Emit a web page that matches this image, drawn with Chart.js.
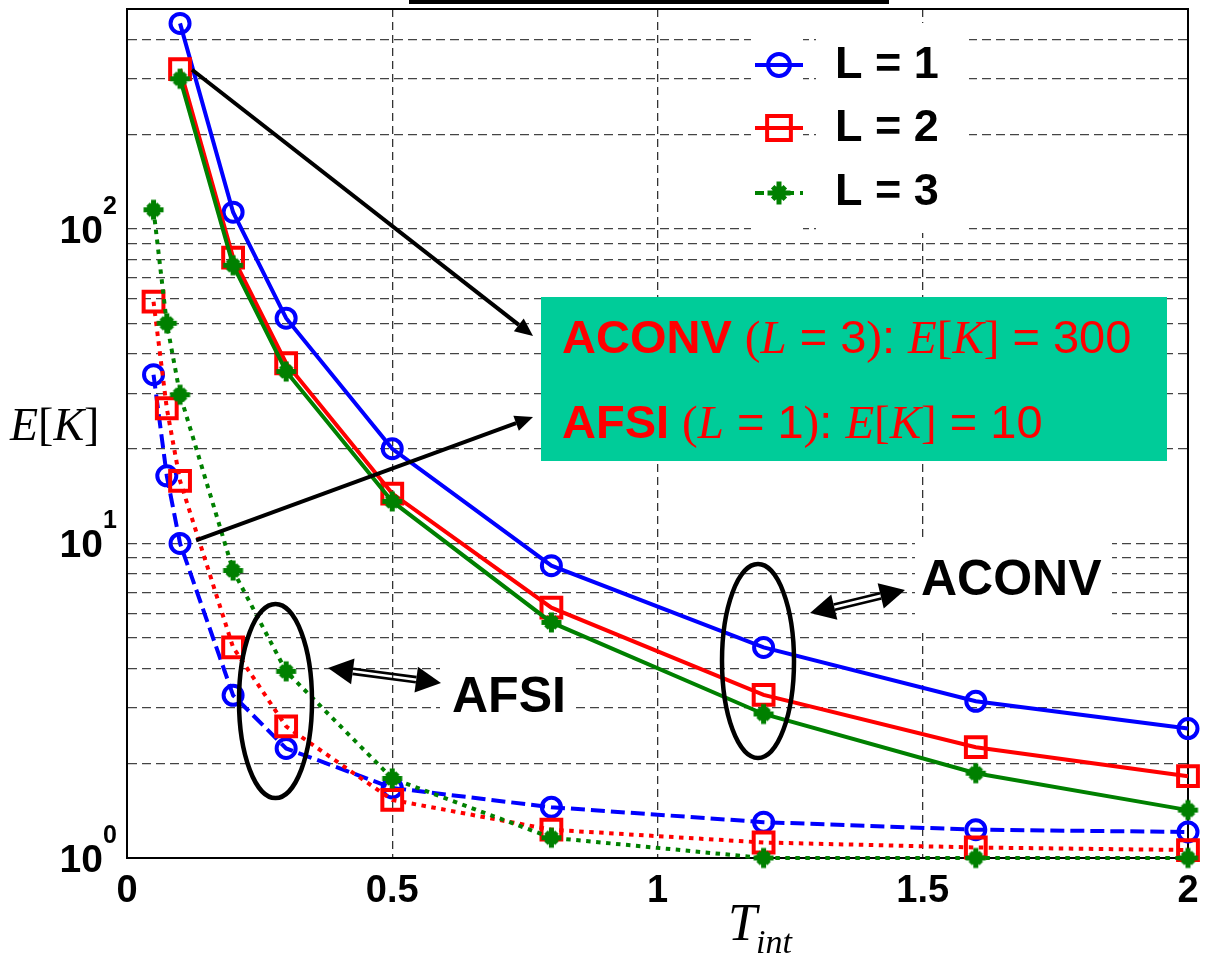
<!DOCTYPE html>
<html>
<head>
<meta charset="utf-8">
<script src="https://cdn.jsdelivr.net/npm/chart.js@4.4.1/dist/chart.umd.min.js"></script>
<style>
  html, body { margin: 0; padding: 0; background: #ffffff; }
  #wrap { width: 1205px; height: 957px; position: relative; }
</style>
</head>
<body>
<div id="wrap"><canvas id="c" width="1205" height="957"></canvas></div>
<script>
// Interval lengths (x) for the two schemes
const tAconv = [0.1, 0.2, 0.3, 0.5, 0.8, 1.2, 1.6, 2.0];
const tAfsi  = [0.05, 0.075, 0.1, 0.2, 0.3, 0.5, 0.8, 1.2, 1.6, 2.0];

// E[K] for ACONV (solid lines)
const aconvL1 = [450, 113, 52, 20, 8.5, 4.67, 3.15, 2.58];
const aconvL2 = [322, 81, 37.4, 14.4, 6.25, 3.30, 2.25, 1.82];
const aconvL3 = [300, 76.6, 35.2, 13.6, 5.61, 2.87, 1.86, 1.42];

// E[K] for AFSI (dashed / dotted lines)
const afsiL1 = [34.4, 16.4, 10, 3.29, 2.23, 1.67, 1.45, 1.30, 1.23, 1.21];
const afsiL2 = [58.7, 26.9, 15.8, 4.67, 2.62, 1.53, 1.23, 1.12, 1.08, 1.06];
const afsiL3 = [115, 50.1, 29.7, 8.2, 3.92, 1.79, 1.16, 1.0, 1.0, 1.0];

const seriesNames = ['L = 1', 'L = 2', 'L = 3'];
const xTicks = [0, 0.5, 1, 1.5, 2];
const xTickLabels = ['0', '0.5', '1', '1.5', '2'];
const yDecades = [1, 10, 100];
const yDecadeExp = ['0', '1', '2'];
const yGridValues = [2, 3, 4, 5, 6, 7, 8, 9, 10, 20, 30, 40, 50, 60, 70, 80, 90, 100, 200, 300, 400];

const SANS = '"Liberation Sans", Arial, Helvetica, sans-serif';
const SERIF = '"Liberation Serif", "Times New Roman", Times, serif';
const BLUE = '#0000FF', RED = '#FF0000', GREEN = '#008000';

function pts(xs, ys) { return xs.map((x, i) => ({ x: x, y: ys[i] })); }

// thick asterisk marker: filled diamond body with plus-shaped arms
function asteriskMarker(color, arm, body, lw) {
  const size = Math.ceil(2 * arm + lw + 2);
  const c = document.createElement('canvas');
  c.width = size; c.height = size;
  const g = c.getContext('2d');
  const m = size / 2;
  g.fillStyle = color; g.strokeStyle = color;
  g.beginPath();
  g.moveTo(m, m - body); g.lineTo(m + body, m); g.lineTo(m, m + body); g.lineTo(m - body, m);
  g.closePath(); g.fill();
  g.lineWidth = lw; g.lineCap = 'butt';
  g.beginPath();
  g.moveTo(m - arm, m); g.lineTo(m + arm, m);
  g.moveTo(m, m - arm); g.lineTo(m, m + arm);
  g.stroke();
  g.lineWidth = lw;
  const d = arm * 0.55;
  g.beginPath();
  g.moveTo(m - d, m - d); g.lineTo(m + d, m + d);
  g.moveTo(m - d, m + d); g.lineTo(m + d, m - d);
  g.stroke();
  return c;
}
const starPlot = asteriskMarker(GREEN, 10, 8, 5);
const starLegend = asteriskMarker(GREEN, 11.5, 9, 5);

const markerStyles = [
  { pointStyle: 'circle', pointRadius: 9.5, pointBorderWidth: 4 },
  { pointStyle: 'rect', pointRadius: 14, pointBorderWidth: 4 },
  { pointStyle: starPlot, pointRadius: 10, pointBorderWidth: 0 }
];
const colors = [BLUE, RED, GREEN];

function makeSet(label, data, idx, dash, order) {
  const m = markerStyles[idx];
  return {
    label: label,
    data: data,
    borderColor: colors[idx],
    borderWidth: 4,
    borderDash: dash,
    borderCapStyle: 'butt',
    tension: 0,
    fill: false,
    clip: false,
    pointStyle: m.pointStyle,
    pointRadius: m.pointRadius,
    pointBorderWidth: m.pointBorderWidth,
    pointBorderColor: colors[idx],
    pointBackgroundColor: 'rgba(0,0,0,0)',
    pointHoverRadius: m.pointRadius,
    order: order
  };
}

const datasets = [
  makeSet(seriesNames[0], pts(tAconv, aconvL1), 0, [], 6),
  makeSet(seriesNames[1], pts(tAconv, aconvL2), 1, [], 5),
  makeSet(seriesNames[2], pts(tAconv, aconvL3), 2, [], 4),
  makeSet(seriesNames[0] + ' AFSI', pts(tAfsi, afsiL1), 0, [14, 6], 3),
  makeSet(seriesNames[1] + ' AFSI', pts(tAfsi, afsiL2), 1, [4.5, 5.5], 2),
  makeSet(seriesNames[2] + ' AFSI', pts(tAfsi, afsiL3), 2, [4.5, 5.5], 1)
];

function drawRuns(ctx, x, y, runs, color) {
  ctx.fillStyle = color;
  ctx.textAlign = 'left';
  ctx.textBaseline = 'alphabetic';
  for (const r of runs) {
    ctx.font = r[1];
    ctx.fillText(r[0], x, y);
    x += ctx.measureText(r[0]).width;
  }
}

function arrow(ctx, x0, y0, x1, y1, headLen, headHalf, lw) {
  const a = Math.atan2(y1 - y0, x1 - x0);
  const bx = x1 - headLen * Math.cos(a), by = y1 - headLen * Math.sin(a);
  ctx.save();
  ctx.strokeStyle = '#000'; ctx.fillStyle = '#000'; ctx.lineWidth = lw; ctx.setLineDash([]);
  ctx.beginPath(); ctx.moveTo(x0, y0); ctx.lineTo(bx, by); ctx.stroke();
  ctx.beginPath();
  ctx.moveTo(x1, y1);
  ctx.lineTo(bx + headHalf * Math.sin(a), by - headHalf * Math.cos(a));
  ctx.lineTo(bx - headHalf * Math.sin(a), by + headHalf * Math.cos(a));
  ctx.closePath(); ctx.fill();
  ctx.restore();
}

function doubleArrow(ctx, x0, y0, x1, y1) {
  const a = Math.atan2(y1 - y0, x1 - x0);
  const hl = 25, hh = 13, off = 2.6;
  const ax = x0 + hl * Math.cos(a), ay = y0 + hl * Math.sin(a);
  const bx = x1 - hl * Math.cos(a), by = y1 - hl * Math.sin(a);
  const nx = -Math.sin(a), ny = Math.cos(a);
  ctx.save();
  ctx.strokeStyle = '#000'; ctx.fillStyle = '#000'; ctx.lineWidth = 2.6; ctx.setLineDash([]);
  for (const s of [-1, 1]) {
    ctx.beginPath();
    ctx.moveTo(ax + s * off * nx, ay + s * off * ny);
    ctx.lineTo(bx + s * off * nx, by + s * off * ny);
    ctx.stroke();
  }
  for (const h of [[x0, y0, ax, ay], [x1, y1, bx, by]]) {
    ctx.beginPath();
    ctx.moveTo(h[0], h[1]);
    ctx.lineTo(h[2] + hh * nx, h[3] + hh * ny);
    ctx.lineTo(h[2] - hh * nx, h[3] - hh * ny);
    ctx.closePath(); ctx.fill();
  }
  ctx.restore();
}

const decor = {
  id: 'decor',
  beforeDatasetsDraw(chart) {
    const { ctx, chartArea: a } = chart;
    ctx.save();
    ctx.strokeStyle = '#000'; ctx.lineWidth = 2; ctx.setLineDash([]);
    ctx.beginPath();
    ctx.moveTo(a.left, a.top); ctx.lineTo(a.right, a.top); ctx.lineTo(a.right, a.bottom);
    ctx.stroke();
    ctx.restore();
  },
  afterDatasetsDraw(chart) {
    const { ctx } = chart;
    const xs = chart.scales.x, ys = chart.scales.y;
    ctx.save();

    // label backgrounds that mask the grid
    ctx.fillStyle = '#ffffff';
    ctx.fillRect(751, 23, 52, 210);
    ctx.fillRect(816, 23, 153, 210);
    ctx.fillRect(440, 658, 132, 62);
    ctx.fillRect(915, 537, 197, 91);

    // legend
    for (let i = 0; i < 3; i++) {
      const ds = chart.data.datasets[i];
      const rowY = [65, 128, 193][i];
      ctx.strokeStyle = ds.borderColor; ctx.lineWidth = 4; ctx.lineCap = 'butt';
      ctx.setLineDash(i === 2 ? [9, 6] : []);
      ctx.beginPath(); ctx.moveTo(755, rowY); ctx.lineTo(803, rowY); ctx.stroke();
      ctx.setLineDash([]);
      ctx.fillStyle = 'rgba(0,0,0,0)';
      ctx.strokeStyle = ds.borderColor;
      ctx.lineWidth = ds.pointBorderWidth;
      const style = i === 2 ? starLegend : ds.pointStyle;
      const scale = i === 1 ? 1.2 : 1.15;
      Chart.helpers.drawPoint(ctx, {
        pointStyle: style, rotation: 0,
        radius: ds.pointRadius * scale, borderWidth: ds.pointBorderWidth
      }, 779, rowY);
      drawRuns(ctx, 835, [78, 141, 205][i], [[ds.label, 'bold 45px ' + SANS]], '#000');
    }

    // annotation box
    ctx.fillStyle = '#00CC99';
    ctx.fillRect(541, 297, 626, 164);
    const f = 47;
    drawRuns(ctx, 562, 353, [
      ['ACONV', 'bold ' + f + 'px ' + SANS], [' ', f + 'px ' + SANS], ['(', f + 'px ' + SERIF],
      ['L', 'italic ' + f + 'px ' + SERIF], [' = 3', f + 'px ' + SANS], [')', f + 'px ' + SERIF],
      [': ', f + 'px ' + SANS], ['E', 'italic ' + f + 'px ' + SERIF], ['[', f + 'px ' + SERIF],
      ['K', 'italic ' + f + 'px ' + SERIF], [']', f + 'px ' + SERIF], [' = 300', f + 'px ' + SANS]
    ], RED);
    drawRuns(ctx, 562, 438, [
      ['AFSI', 'bold ' + f + 'px ' + SANS], [' ', f + 'px ' + SANS], ['(', f + 'px ' + SERIF],
      ['L', 'italic ' + f + 'px ' + SERIF], [' = 1', f + 'px ' + SANS], [')', f + 'px ' + SERIF],
      [': ', f + 'px ' + SANS], ['E', 'italic ' + f + 'px ' + SERIF], ['[', f + 'px ' + SERIF],
      ['K', 'italic ' + f + 'px ' + SERIF], [']', f + 'px ' + SERIF], [' = 10', f + 'px ' + SANS]
    ], RED);

    // pointer arrows from the highlighted points to the box
    arrow(ctx, xs.getPixelForValue(tAconv[0]) + 12, ys.getPixelForValue(aconvL3[0]) - 9, 533, 336, 18, 8, 4);
    arrow(ctx, xs.getPixelForValue(tAfsi[2]) + 16, ys.getPixelForValue(afsiL1[2]) - 3, 533, 417, 18, 8, 4);

    // grouping ellipses
    ctx.strokeStyle = '#000'; ctx.lineWidth = 4.5; ctx.setLineDash([]);
    ctx.beginPath(); ctx.ellipse(275.5, 701, 36.5, 97, 0, 0, Math.PI * 2); ctx.stroke();
    ctx.beginPath(); ctx.ellipse(758, 661, 36, 97, 0, 0, Math.PI * 2); ctx.stroke();

    doubleArrow(ctx, 328, 668, 441, 683);
    doubleArrow(ctx, 810, 613, 905, 590);

    drawRuns(ctx, 452, 712, [['AFSI', 'bold 50px ' + SANS]], '#000');
    drawRuns(ctx, 921, 595, [['ACONV', 'bold 50px ' + SANS]], '#000');

    // heading frame at the top edge
    ctx.strokeStyle = '#000'; ctx.lineWidth = 4;
    ctx.strokeRect(411, -20, 476, 22);
    ctx.restore();
  },
  afterDraw(chart) {
    const { ctx } = chart;
    const xs = chart.scales.x, ys = chart.scales.y;
    ctx.save();
    ctx.fillStyle = '#000';
    // y tick labels 10^n
    yDecades.forEach((v, i) => {
      const py = ys.getPixelForValue(v);
      ctx.font = 'bold 39px ' + SANS; ctx.textAlign = 'right'; ctx.textBaseline = 'alphabetic';
      ctx.fillText('10', 103, py + 14);
      ctx.font = 'bold 25px ' + SANS; ctx.textAlign = 'left';
      ctx.fillText(yDecadeExp[i], 103, py - 15);
    });
    // x tick labels
    ctx.font = 'bold 38px ' + SANS; ctx.textAlign = 'center'; ctx.textBaseline = 'alphabetic';
    xTicks.forEach((v, i) => ctx.fillText(xTickLabels[i], xs.getPixelForValue(v), 902));
    // axis titles
    drawRuns(ctx, 10, 440, [['E', 'italic 46px ' + SERIF], ['[', '46px ' + SERIF], ['K', 'italic 46px ' + SERIF], [']', '46px ' + SERIF]], '#000');
    drawRuns(ctx, 728, 940, [['T', 'italic 52px ' + SERIF]], '#000');
    drawRuns(ctx, 756, 953, [['int', 'italic 34px ' + SERIF]], '#000');
    ctx.restore();
  }
};

new Chart(document.getElementById('c'), {
  type: 'line',
  data: { datasets: datasets },
  options: {
    responsive: false,
    animation: false,
    devicePixelRatio: 1,
    layout: { autoPadding: false, padding: { top: 9, right: 17, left: 0, bottom: 0 } },
    plugins: { legend: { display: false }, tooltip: { enabled: false } },
    scales: {
      x: {
        type: 'linear', min: 0, max: 2,
        afterBuildTicks: s => { s.ticks = xTicks.map(v => ({ value: v })); },
        afterFit: s => { s.height = 99; },
        ticks: { display: false },
        grid: {
          color: c => (c.tick && (c.tick.value === 0 || c.tick.value === 2)) ? 'rgba(0,0,0,0)' : '#333333',
          lineWidth: 1.3, drawTicks: false
        },
        border: { display: true, color: '#000', width: 2, dash: [8, 5] }
      },
      y: {
        type: 'logarithmic', min: 1, max: 500,
        afterBuildTicks: s => { s.ticks = yGridValues.map(v => ({ value: v })); },
        afterFit: s => { s.width = 127; },
        ticks: { display: false },
        grid: { color: '#444444', lineWidth: 1.3, drawTicks: false },
        border: { display: true, color: '#000', width: 2, dash: [9, 5] }
      }
    }
  },
  plugins: [decor]
});
</script>
</body>
</html>
